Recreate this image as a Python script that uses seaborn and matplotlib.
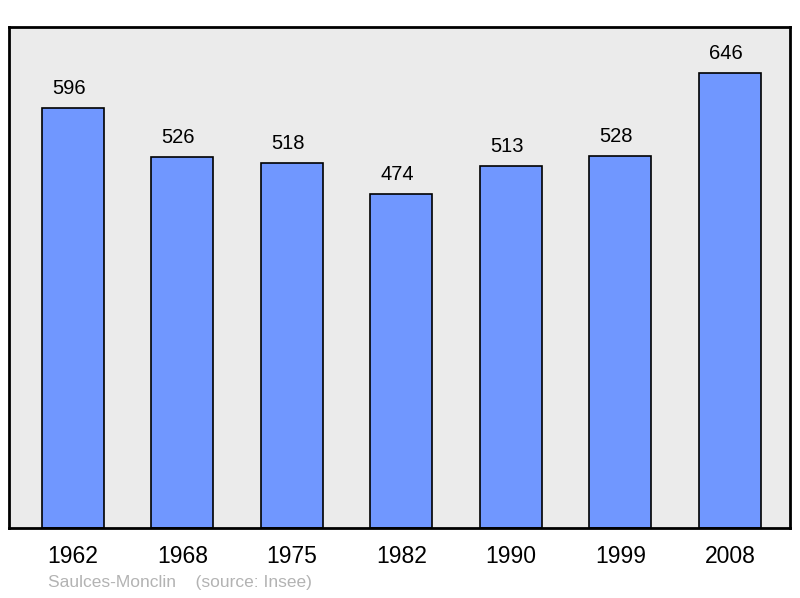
import pandas as pd
import matplotlib
matplotlib.use("Agg")
import matplotlib.pyplot as plt
import seaborn as sns

years = ["1962", "1968", "1975", "1982", "1990", "1999", "2008"]
population = [596, 526, 518, 474, 513, 528, 646]

BAR_COLOR = "#7097ff"
BG_COLOR = "#ebebeb"

sns.set_style("white")
plt.rcParams["font.family"] = ["Liberation Sans", "DejaVu Sans"]
plt.rcParams["text.color"] = "black"
plt.rcParams["xtick.color"] = "black"

df = pd.DataFrame({"year": years, "pop": population})

fig = plt.figure(figsize=(8, 5.98), dpi=100)
ax = fig.add_axes([9 / 800, 70 / 598, 781 / 800, 501 / 598])
ax.set_facecolor(BG_COLOR)

sns.barplot(data=df, x="year", y="pop", color=BAR_COLOR, width=0.566,
            saturation=1, edgecolor="black", linewidth=1.2, ax=ax)

# value labels sit a little left of the bar centre in the original
for i, v in enumerate(population):
    ax.text(i - 0.04, v + 14, str(v), ha="center", va="bottom", fontsize=14.5,
            color="black")

ax.set_xlim(-0.584, 6.548)
ax.set_ylim(0, max(population) * 1.1)
ax.set_yticks([])
ax.set_xlabel("")
ax.set_ylabel("")
ax.tick_params(axis="x", length=0, labelsize=16.5, pad=12, labelcolor="black")
for s in ax.spines.values():
    s.set_color("black")
    s.set_linewidth(2)

fig.text(48 / 800, 1 - 583 / 598, "Saulces-Monclin    (source: Insee)",
         color="#b3b3b3", fontsize=12.5, va="center", ha="left")

fig.savefig("out.png", dpi=100)
